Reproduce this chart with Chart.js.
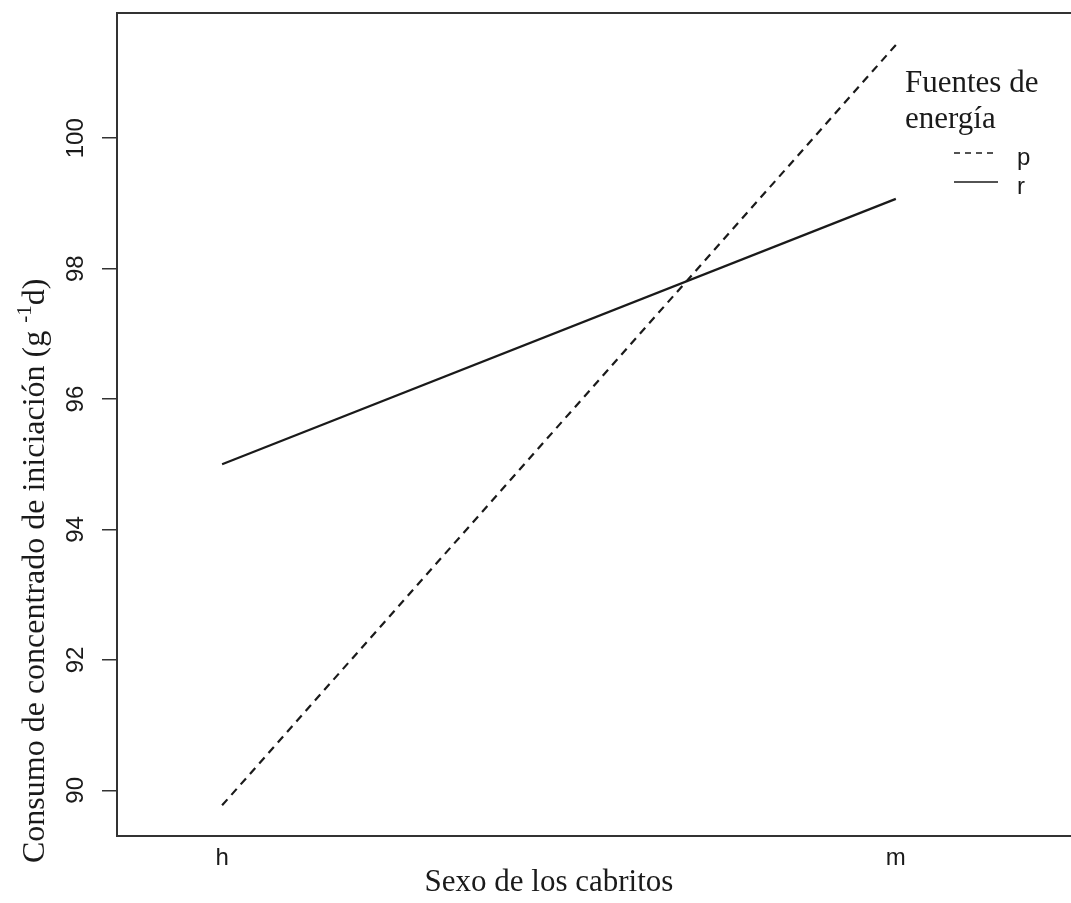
<!DOCTYPE html>
<html>
<head>
<meta charset="utf-8">
<script src="https://cdn.jsdelivr.net/npm/chart.js@4.4.0/dist/chart.umd.min.js"></script>
<style>
html, body { margin: 0; padding: 0; background: #fff; overflow: hidden; }
</style>
</head>
<body>
<canvas id="grafico" width="1071" height="903"></canvas>
<script>
// datos
const sexos = ['h', 'm'];
const posiciones = [1, 2];
const fuentes = ['p', 'r'];
const consumoP = [89.77, 101.43];
const consumoR = [95.00, 99.07];
const ticksY = [90, 92, 94, 96, 98, 100];
const tituloLeyenda = ['Fuentes de', 'energía'];
const tituloX = 'Sexo de los cabritos';
const tituloY = ['Consumo de concentrado de iniciación (g ', '-1', 'd)'];

const SERIF = '"Liberation Serif", "Times New Roman", serif';
const SANS = '"Liberation Sans", Arial, sans-serif';
const TINTA = '#1a1a1a';

// titulos de ejes y leyenda al estilo de R
const TextosPlugin = {
	id: 'textos',
	afterDraw: (chart) => {
		const { ctx } = chart;
		ctx.save();
		ctx.fillStyle = TINTA;
		ctx.textBaseline = 'alphabetic';

		ctx.font = '31px ' + SERIF;
		ctx.textAlign = 'center';
		ctx.fillText(tituloX, 549, 891);

		ctx.save();
		ctx.translate(44, 863);
		ctx.rotate(-Math.PI / 2);
		ctx.textAlign = 'left';
		let x = 0;
		ctx.font = '32px ' + SERIF;
		ctx.fillText(tituloY[0], x, 0);
		x += ctx.measureText(tituloY[0]).width;
		ctx.font = '21px ' + SERIF;
		ctx.fillText(tituloY[1], x, -13);
		x += ctx.measureText(tituloY[1]).width;
		ctx.font = '32px ' + SERIF;
		ctx.fillText(tituloY[2], x, 0);
		ctx.restore();

		ctx.textAlign = 'left';
		ctx.font = '31px ' + SERIF;
		tituloLeyenda.forEach((t, i) => ctx.fillText(t, 905, 92 + i * 36));

		chart.data.datasets.forEach((ds, i) => {
			const y = 153 + i * 29;
			ctx.strokeStyle = TINTA;
			ctx.lineWidth = 1.5;
			ctx.setLineDash(ds.borderDash && ds.borderDash.length ? [6, 5] : []);
			ctx.beginPath();
			ctx.moveTo(954, y);
			ctx.lineTo(998, y);
			ctx.stroke();
			ctx.setLineDash([]);
			ctx.font = '24px ' + SANS;
			ctx.fillText(ds.label, 1017, y + 12);
		});
		ctx.restore();
	}
};

const serie = (valores) => posiciones.map((x, i) => ({ x: x, y: valores[i] }));

const ctx = document.getElementById('grafico').getContext('2d');
new Chart(ctx, {
	type: 'line',
	data: {
		datasets: [
			{
				label: fuentes[0],
				data: serie(consumoP),
				borderColor: TINTA,
				borderWidth: 2.2,
				borderDash: [8, 6],
				pointRadius: 0,
				fill: false
			},
			{
				label: fuentes[1],
				data: serie(consumoR),
				borderColor: TINTA,
				borderWidth: 2.2,
				pointRadius: 0,
				fill: false
			}
		]
	},
	options: {
		responsive: false,
		animation: false,
		layout: { padding: 0 },
		plugins: {
			legend: { display: false },
			tooltip: { enabled: false },
			title: { display: false }
		},
		scales: {
			x: {
				type: 'linear',
				position: 'bottom',
				min: 0.844,
				max: 2.26,
				afterBuildTicks: (scale) => { scale.ticks = posiciones.map((v) => ({ value: v })); },
				afterFit: (scale) => { scale.height = 67; scale.paddingLeft = 0; scale.paddingRight = 0; },
				ticks: {
					callback: (v) => sexos[posiciones.indexOf(v)],
					font: { family: SANS, size: 24 },
					color: TINTA,
					padding: 8,
					maxRotation: 0,
					autoSkip: false
				},
				grid: { display: false, drawTicks: false },
				border: { display: true, color: '#333', width: 2 }
			},
			arriba: {
				type: 'linear',
				position: 'top',
				min: 0.844,
				max: 2.26,
				afterFit: (scale) => { scale.height = 13; },
				ticks: { display: false },
				grid: { display: false, drawTicks: false },
				border: { display: true, color: '#333', width: 2 }
			},
			y: {
				type: 'linear',
				min: 89.30,
				max: 101.92,
				afterBuildTicks: (scale) => { scale.ticks = ticksY.map((v) => ({ value: v })); },
				afterFit: (scale) => { scale.width = 117; scale.paddingTop = 0; scale.paddingBottom = 0; },
				ticks: {
					minRotation: 90,
					maxRotation: 90,
					crossAlign: 'center',
					padding: 6,
					font: { family: SANS, size: 24 },
					color: TINTA
				},
				grid: { drawOnChartArea: false, drawTicks: true, tickLength: 15, color: '#333', lineWidth: 1.5 },
				border: { display: true, color: '#333', width: 2 }
			}
		}
	},
	plugins: [TextosPlugin]
});
</script>
</body>
</html>
